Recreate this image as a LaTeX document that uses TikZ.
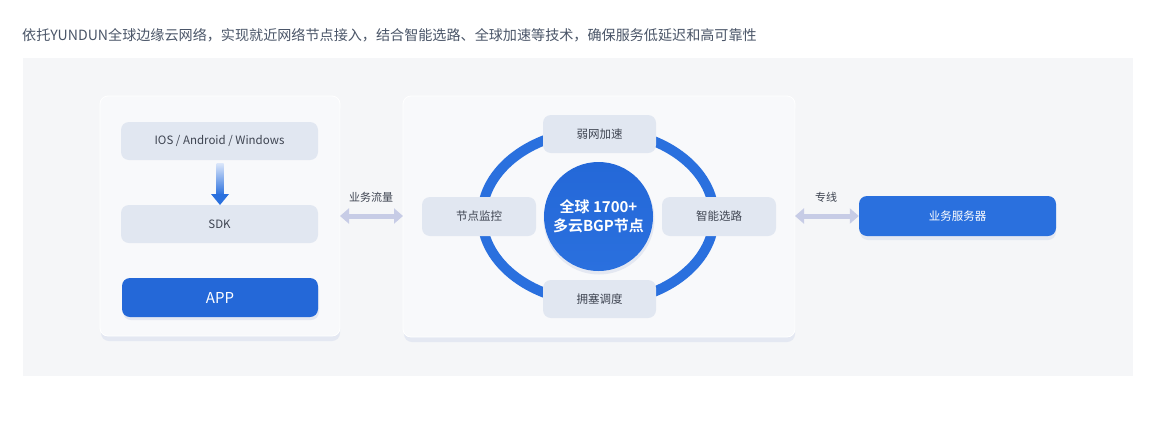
\documentclass[tikz,border=0pt]{standalone}
\usepackage{fontspec}
\setmainfont{Noto Sans CJK SC}
\newfontfamily\cjkbold[BoldFont={* Bold}]{Noto Sans CJK SC}
\usetikzlibrary{arrows.meta,shadings}
\definecolor{titlec}{HTML}{4A5568}
\definecolor{bgc}{HTML}{F5F6F8}
\definecolor{panelc}{HTML}{F8F9FB}
\definecolor{panelsh}{HTML}{E4E8F2}
\definecolor{boxc}{HTML}{E1E7F1}
\definecolor{boxtext}{HTML}{3E4451}
\definecolor{bluec}{HTML}{2468D8}
\definecolor{ringc}{HTML}{2A70DE}
\definecolor{arrc}{HTML}{C7CCE6}
\definecolor{lightblue}{HTML}{DCE7FA}
\tikzset{
  panel/.style={fill=panelc, draw=white, line width=0.8pt, rounded corners=8pt},
  greybox/.style={fill=boxc, rounded corners=8pt, text=boxtext, font=\fontsize{11.5}{13}\selectfont, inner sep=0pt},
  bluebox/.style={fill=bluec, rounded corners=8pt, text=white, inner sep=0pt},
  lbl/.style={text=boxtext, font=\fontsize{11}{13}\selectfont},
  fatarrow/.style={draw=arrc, line width=5pt, {Triangle[width=15pt,length=9pt]}-{Triangle[width=15pt,length=9pt]}, shorten <=0pt, shorten >=0pt}
}
\begin{document}
\begin{tikzpicture}[x=1pt,y=-1pt]
\useasboundingbox (0,0) rectangle (1157,421);
\fill[white] (0,0) rectangle (1157,421);
\node[anchor=west, text=titlec, font=\fontsize{14.1}{15}\selectfont, inner sep=0pt] (title) at (22,35) {依托YUNDUN全球边缘云网络，实现就近网络节点接入，结合智能选路、全球加速等技术，确保服务低延迟和高可靠性};
\fill[bgc] (23,58) rectangle (1133,376);
% panels
\fill[panelsh, rounded corners=8pt] (101,101) rectangle (340,341);
\fill[panelsh, rounded corners=8pt] (404,101) rectangle (795,342);
\draw[panel] (100,96) rectangle (340,336);
\draw[panel] (403,96) rectangle (795,337);
% left column
\node[greybox, minimum width=197pt, minimum height=38pt] (os) at (219.5,141) {IOS / Android / Windows};
\node[greybox, minimum width=197pt, minimum height=38pt] (sdk) at (219.5,224) {SDK};
\fill[panelsh, rounded corners=8pt] (123,282) rectangle (319,320);
\node[bluebox, minimum width=196pt, minimum height=39pt, font=\fontsize{15}{17}\selectfont] (app) at (220,297.5) {APP};
\shade[top color=lightblue, bottom color=ringc] (216.5,163) rectangle (223.5,195);
\fill[ringc] (211,194) -- (229,194) -- (220,205) -- cycle;
% ring
\draw[ringc, line width=10pt] (598,216.5) ellipse [x radius=116, y radius=86];
\node[greybox, minimum width=113pt, minimum height=38pt] (weak) at (599.5,134) {弱网加速};
\node[greybox, minimum width=113pt, minimum height=38pt] (cong) at (599.5,299) {拥塞调度};
\node[greybox, minimum width=114pt, minimum height=39pt] (mon) at (479,216.5) {节点监控};
\node[greybox, minimum width=114pt, minimum height=39pt] (route) at (719,216.5) {智能选路};
\fill[panelsh] (599,219) circle (55.5);
\node[circle, minimum size=109pt, inner sep=0pt, top color=bluec, bottom color=ringc, text=white, align=center, font=\cjkbold\bfseries\fontsize{15}{19}\selectfont] (core) at (598.5,216.5) {全球 1700+\\多云BGP节点};
% right server
\fill[panelsh, rounded corners=8pt] (860,200) rectangle (1056,240);
\node[bluebox, fill=ringc, minimum width=197pt, minimum height=40pt, font=\fontsize{11.5}{13}\selectfont] (srv) at (957.5,216) {业务服务器};
% connectors
\coordinate (lp) at (340,216);
\coordinate (mpl) at (403,216);
\coordinate (mpr) at (795,216);
\draw[fatarrow] (lp) -- (mpl);
\draw[fatarrow] (mpr) -- (srv.west);
\node[lbl] (l1) at (371,197) {业务流量};
\node[lbl] (l2) at (826,197) {专线};
\end{tikzpicture}
\end{document}
